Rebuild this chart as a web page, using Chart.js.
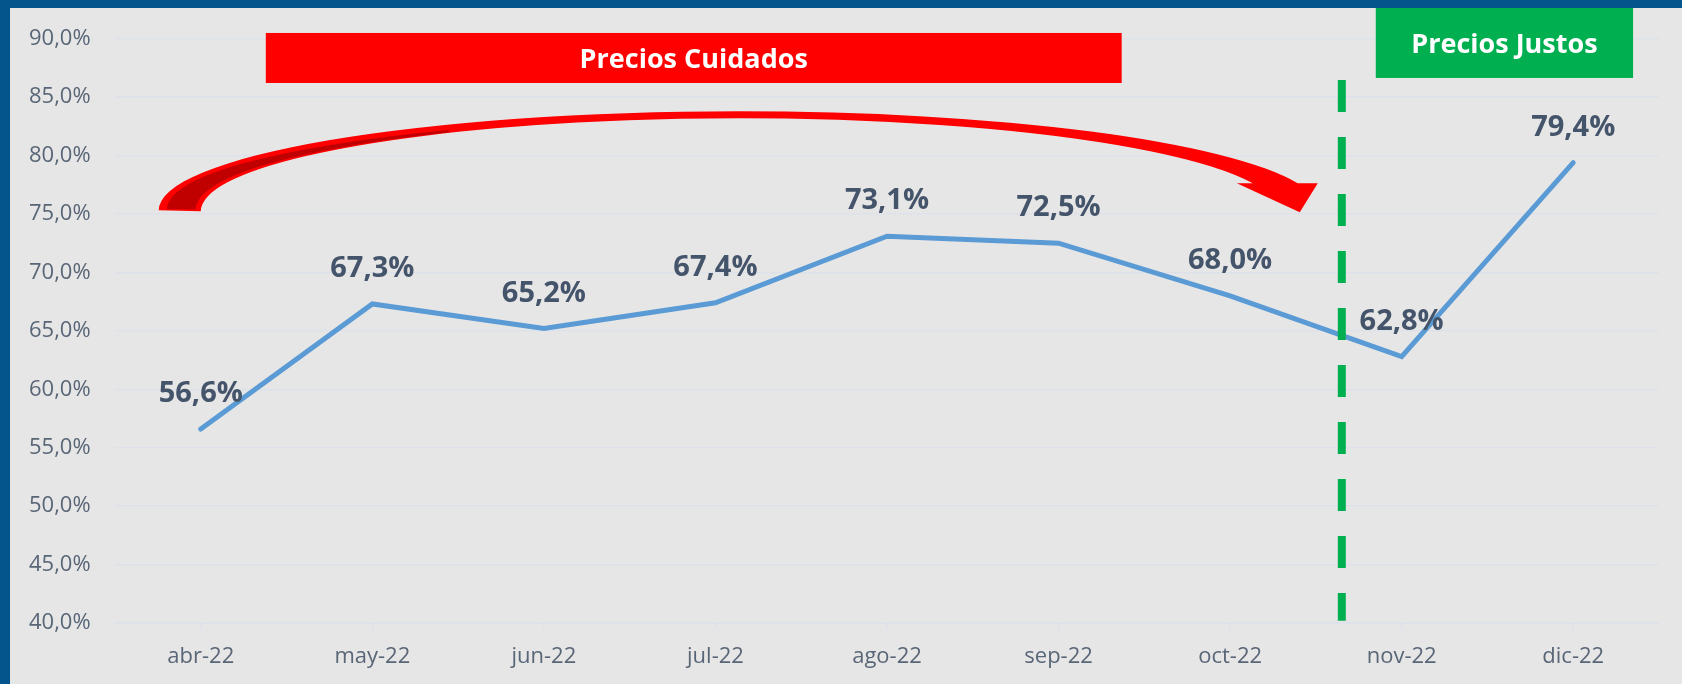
<!DOCTYPE html>
<html>
<head>
<meta charset="utf-8">
<script src="https://cdn.jsdelivr.net/npm/chart.js@4.4.0/dist/chart.umd.min.js"></script>
<style>
    html, body { margin: 0; padding: 0; background: #03558c; overflow: hidden; }
    #wrap { position: absolute; left: 10px; top: 8px; width: 1672px; height: 676px; background: #e7e6e6; }
</style>
</head>
<body>
<div id="wrap"><canvas id="shareChart" width="1672" height="676"></canvas></div>
<script>
const months = ['abr-22', 'may-22', 'jun-22', 'jul-22', 'ago-22', 'sep-22', 'oct-22', 'nov-22', 'dic-22'];
const shareValues = [56.6, 67.3, 65.2, 67.4, 73.1, 72.5, 68.0, 62.8, 79.4];
const yTickValues = [40, 45, 50, 55, 60, 65, 70, 75, 80, 85, 90];

const bannerCuidados = { text: 'Precios Cuidados', from: 0.379, to: 5.368, top: 90.49, bottom: 86.21, color: '#ff0000' };
const bannerJustos = { text: 'Precios Justos', from: 6.849, to: 8.349, top: 93.0, bottom: 86.64, color: '#00b050' };
const divider = { at: 6.651, top: 86.46, bottom: 40.2 };
// curved arrow, in category / percent units
const arrow = {
    cx: 3.139,
    outerCy: 75.31, outerRx: 3.384, outerRy: 8.476,
    innerCy: 75.23, innerRx: 3.139, innerRy: 7.962,
    headBase: 77.63, headLeft: 6.039, headRight: 6.511, tipX: 6.406, tipY: 75.14,
    darkCy: 75.40, darkOuterRx: 3.337, darkOuterRy: 7.877, darkInnerRx: 3.168, darkInnerRy: 7.791, darkEnd: 1.447
};

const fmtPct = (v) => `${Number(v).toFixed(1).replace('.', ',')}%`;

const overlayPlugin = {
    id: 'overlay',
    afterDatasetsDraw(chart) {
        const { ctx } = chart;
        const xs = chart.scales.x;
        const ys = chart.scales.y;
        const X = (v) => xs.getPixelForValue(v);
        const Y = (v) => ys.getPixelForValue(v);
        const kx = X(1) - X(0);
        const ky = Y(0) - Y(1);
        ctx.save();

        // red curved arrow
        const cx = X(arrow.cx);
        const ocy = Y(arrow.outerCy), orx = arrow.outerRx * kx, ory = arrow.outerRy * ky;
        const icy = Y(arrow.innerCy), irx = arrow.innerRx * kx, iry = arrow.innerRy * ky;
        const hb = Y(arrow.headBase);
        const aO = 2 * Math.PI - Math.asin((ocy - hb) / ory);
        const aI = 2 * Math.PI - Math.asin((icy - hb) / iry);
        ctx.beginPath();
        ctx.ellipse(cx, ocy, orx, ory, 0, Math.PI, aO);
        ctx.lineTo(X(arrow.headRight), hb);
        ctx.lineTo(X(arrow.tipX), Y(arrow.tipY));
        ctx.lineTo(X(arrow.headLeft), hb);
        ctx.ellipse(cx, icy, irx, iry, 0, aI, Math.PI, true);
        ctx.closePath();
        ctx.fillStyle = '#ff0000';
        ctx.fill();

        const dcy = Y(arrow.darkCy);
        const d1rx = arrow.darkOuterRx * kx, d1ry = arrow.darkOuterRy * ky;
        const d2rx = arrow.darkInnerRx * kx, d2ry = arrow.darkInnerRy * ky;
        const xe = X(arrow.darkEnd);
        const a1 = Math.PI + Math.acos((cx - xe) / d1rx);
        const a2 = Math.PI + Math.acos((cx - xe) / d2rx);
        ctx.beginPath();
        ctx.ellipse(cx, dcy, d1rx, d1ry, 0, Math.PI, a1);
        ctx.ellipse(cx, dcy, d2rx, d2ry, 0, a2, Math.PI, true);
        ctx.closePath();
        ctx.fillStyle = '#c00000';
        ctx.fill();

        // banners
        [bannerCuidados, bannerJustos].forEach((b) => {
            const x0 = X(b.from), x1 = X(b.to), y0 = Y(b.top), y1 = Y(b.bottom);
            ctx.fillStyle = b.color;
            ctx.fillRect(x0, y0, x1 - x0, y1 - y0);
            ctx.fillStyle = '#ffffff';
            ctx.font = 'bold 27px "Open Sans"';
            ctx.textAlign = 'center';
            ctx.textBaseline = 'alphabetic';
            const midY = (Math.max(y0, 0) + y1) / 2;
            ctx.fillText(b.text, (x0 + x1) / 2, midY + 10);
        });

        // green dashed divider
        ctx.beginPath();
        ctx.setLineDash([32, 25]);
        ctx.lineWidth = 8;
        ctx.strokeStyle = '#00b050';
        ctx.moveTo(X(divider.at), Y(divider.top));
        ctx.lineTo(X(divider.at), Y(divider.bottom));
        ctx.stroke();
        ctx.setLineDash([]);

        // value labels
        const meta = chart.getDatasetMeta(0);
        ctx.font = 'bold 29px "Open Sans"';
        ctx.fillStyle = '#44546a';
        ctx.textAlign = 'center';
        ctx.textBaseline = 'alphabetic';
        meta.data.forEach((pt, i) => {
            ctx.fillText(fmtPct(shareValues[i]), pt.x, pt.y - 27);
        });
        ctx.restore();
    }
};

const gridColor = '#dde2ea';
new Chart(document.getElementById('shareChart').getContext('2d'), {
    type: 'line',
    data: {
        labels: months,
        datasets: [{
            data: shareValues,
            borderColor: '#5b9bd5',
            borderWidth: 5,
            pointRadius: 0,
            tension: 0,
            borderCapStyle: 'round',
            fill: false
        }]
    },
    options: {
        responsive: false,
        animation: false,
        layout: { padding: { top: 30.7, right: 23, left: 19, bottom: 0 } },
        plugins: { legend: { display: false }, tooltip: { enabled: false } },
        scales: {
            x: {
                offset: true,
                grid: { drawOnChartArea: false, drawTicks: true, tickLength: 6, color: gridColor, lineWidth: 1.5 },
                border: { color: gridColor, width: 1.5 },
                ticks: { color: '#596677', font: { family: 'Open Sans', size: 22 }, padding: 15, maxRotation: 0 },
                afterFit: (s) => { s.height = 61; }
            },
            y: {
                min: yTickValues[0],
                max: yTickValues[yTickValues.length - 1],
                afterBuildTicks: (axis) => { axis.ticks = yTickValues.map((v) => ({ value: v })); },
                grid: { color: gridColor, lineWidth: 1.5, drawTicks: false },
                border: { display: false },
                ticks: { color: '#596677', font: { family: 'Open Sans', size: 22 }, padding: 0, crossAlign: 'far', callback: (v) => fmtPct(v) },
                afterFit: (s) => { s.width = 86; }
            }
        }
    },
    plugins: [overlayPlugin]
});
</script>
</body>
</html>
